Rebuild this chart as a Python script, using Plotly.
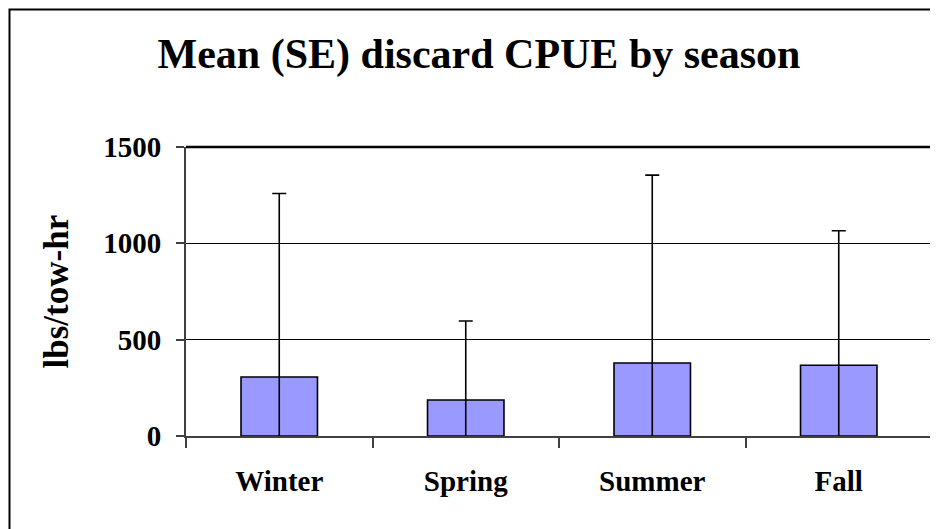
import plotly.graph_objects as go

# --- Data ---
seasons = ['Winter', 'Spring', 'Summer', 'Fall']
mean_cpue = [306, 187, 379, 367]
se_cpue = [953, 410, 975, 698]
y_ticks = [0, 500, 1000, 1500]

FONT = 'Liberation Serif'
PAGE_PAD = 8  # the page body adds an 8px margin around the figure

fig = go.Figure()

fig.add_trace(
    go.Bar(
        x=seasons,
        y=mean_cpue,
        width=0.41,
        marker=dict(color='#9999FF', line=dict(color='black', width=1.6)),
        error_y=dict(type='data', array=se_cpue, symmetric=True,
                     color='black', thickness=1.6, width=7),
        name='Mean CPUE',
    )
)

# plot frame: heavy top line, thin right line
fig.add_shape(type='line', xref='paper', yref='paper', x0=0, x1=1, y0=1, y1=1,
              line=dict(color='black', width=2.5))
fig.add_shape(type='line', xref='paper', yref='paper', x0=1, x1=1, y0=0, y1=1,
              line=dict(color='black', width=1.5))
# outer chart border (runs off the right and bottom of the picture)
fig.add_shape(type='rect', xref='paper', yref='paper',
              x0=(9.5 - 186) / 746, x1=1.05, y0=-0.6, y1=(436 - 9.5) / 289,
              line=dict(color='black', width=2))

fig.add_annotation(
    text='<b>lbs/tow-hr</b>', textangle=-90,
    xref='paper', yref='paper', x=-0.173, y=0.5,
    xanchor='center', yanchor='middle', showarrow=False,
    font=dict(family=FONT, size=35, color='black'),
)

fig.update_layout(
    width=938, height=529,
    margin=dict(l=186 - PAGE_PAD, r=6 + PAGE_PAD, t=147 - PAGE_PAD, b=93 + PAGE_PAD),
    paper_bgcolor='white', plot_bgcolor='white',
    showlegend=False,
    title=dict(text='<b>Mean (SE) discard CPUE by season</b>',
               x=(479 - PAGE_PAD) / 938, xanchor='center',
               y=1 - (53 - PAGE_PAD) / 529, yanchor='middle',
               font=dict(family=FONT, size=42, color='black')),
    xaxis=dict(
        type='category', range=[-0.5, 3.5], automargin=False,
        showgrid=False, showline=True, linecolor='#404040', linewidth=2,
        ticks='outside', tickson='boundaries', ticklen=10, tickcolor='#404040', tickwidth=1.5,
        tickfont=dict(family=FONT, size=29, color='black', weight='bold'),
        ticklabelstandoff=18,
    ),
    yaxis=dict(
        range=[0, 1500], tickvals=y_ticks, automargin=False,
        showgrid=True, gridcolor='black', gridwidth=1,
        showline=True, linecolor='#404040', linewidth=2,
        ticks='outside', ticklen=8, tickcolor='#404040', tickwidth=1.5,
        tickfont=dict(family=FONT, size=29, color='black', weight='bold'),
        ticklabelstandoff=9,
        zeroline=False,
    ),
)

fig.write_html('out.html')
